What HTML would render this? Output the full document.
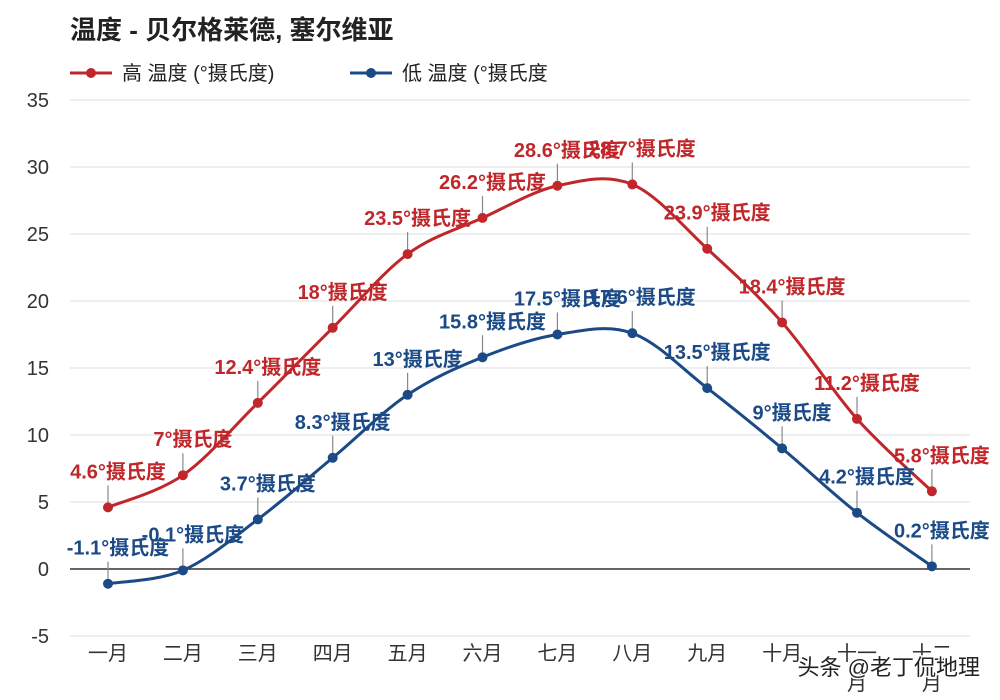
<!DOCTYPE html>
<html><head><meta charset="utf-8">
<style>
body{margin:0;background:#fff;width:1000px;height:700px;overflow:hidden;font-family:"Liberation Sans","Noto Sans CJK SC",sans-serif;}
svg{display:block}
</style></head>
<body>
<svg id="chart" width="1000" height="700"></svg>
<script>
const months=["一月","二月","三月","四月","五月","六月","七月","八月","九月","十月","十一月","十二月"];
const highs=[4.6,7,12.4,18,23.5,26.2,28.6,28.7,23.9,18.4,11.2,5.8];
const lows=[-1.1,-0.1,3.7,8.3,13,15.8,17.5,17.6,13.5,9,4.2,0.2];
const yTicks=[-5,0,5,10,15,20,25,30,35];
const NS="http://www.w3.org/2000/svg";
const svg=document.getElementById('chart');
function X(i){return 108+i*74.9;}
function Y(v){return 569-v*13.4;}
function el(tag,attrs,parent){const e=document.createElementNS(NS,tag);for(const k in attrs)e.setAttribute(k,attrs[k]);(parent||svg).appendChild(e);return e;}
function txt(s,attrs){const t=el('text',attrs);t.textContent=s;return t;}

const title=txt("温度 - 贝尔格莱德, 塞尔维亚",{x:70,y:39,'font-size':26,'font-weight':'bold',fill:'#222'});



const RED="#c0272b",BLUE="#1b4a86";
[[RED,"高 温度 (°摄氏度)",70,'legend-high'],[BLUE,"低 温度 (°摄氏度",350,'legend-low']].forEach(([c,s,x,n])=>{
  const g=el('g',{});
  
  
  el('line',{x1:x,y1:73,x2:x+42,y2:73,stroke:c,'stroke-width':3},g);
  el('circle',{cx:x+21,cy:73,r:5,fill:c},g);
  const t=el('text',{x:x+52,y:80,'font-size':20,fill:'#222'},g);t.textContent=s;
});

yTicks.forEach(v=>{
  const l=el('line',{x1:70,x2:970,y1:Y(v),y2:Y(v),stroke:v===0?'#333':'#d8dde2','stroke-width':v===0?1.5:1});
  
  
  const t=txt(String(v),{x:49,y:Y(v)+7,'font-size':20,fill:'#333','text-anchor':'end'});
  
  
});
months.forEach((m,i)=>{
  const x=X(i);
  if(m.length===3){
    const a=txt(m.slice(0,2),{x:x,y:660,'font-size':20,fill:'#333','text-anchor':'middle'});
    
    
    const b=txt("月",{x:x,y:690,'font-size':20,fill:'#333','text-anchor':'middle'});
    
    
  } else {
    const t=txt(m,{x:x,y:660,'font-size':20,fill:'#333','text-anchor':'middle'});
    
    
  }
});

function smooth(vals){
  const p=vals.map((v,i)=>[X(i),Y(v)]);
  let d="M"+p[0][0]+","+p[0][1];
  for(let i=0;i<p.length-1;i++){
    const p0=p[i-1]||p[i],p1=p[i],p2=p[i+1],p3=p[i+2]||p2;
    const c1=[p1[0]+(p2[0]-p0[0])/6,p1[1]+(p2[1]-p0[1])/6];
    const c2=[p2[0]-(p3[0]-p1[0])/6,p2[1]-(p3[1]-p1[1])/6];
    d+=` C${c1[0]},${c1[1]} ${c2[0]},${c2[1]} ${p2[0]},${p2[1]}`;
  }
  return d;
}
function series(vals,color,name){
  const path=el('path',{d:smooth(vals),fill:'none',stroke:color,'stroke-width':3});
  
  
  vals.forEach((v,i)=>{
    const x=X(i),y=Y(v);
    el('line',{x1:x,x2:x,y1:y-22,y2:y-5,stroke:'#888','stroke-width':1.2});
    const c=el('circle',{cx:x,cy:y,r:5,fill:color});
    
    
    const t=txt(v+"°摄氏度",{x:x+10,y:y-29,'font-size':20,'font-weight':'bold',fill:color,'text-anchor':'middle'});
    
    
  });
}
series(highs,RED,'high-temp');
series(lows,BLUE,'low-temp');

const wm=txt("头条 @老丁侃地理",{x:980,y:675,'font-size':22,fill:'#222','text-anchor':'end',stroke:'#fff','stroke-width':3,'paint-order':'stroke'});


</script>
</body></html>
